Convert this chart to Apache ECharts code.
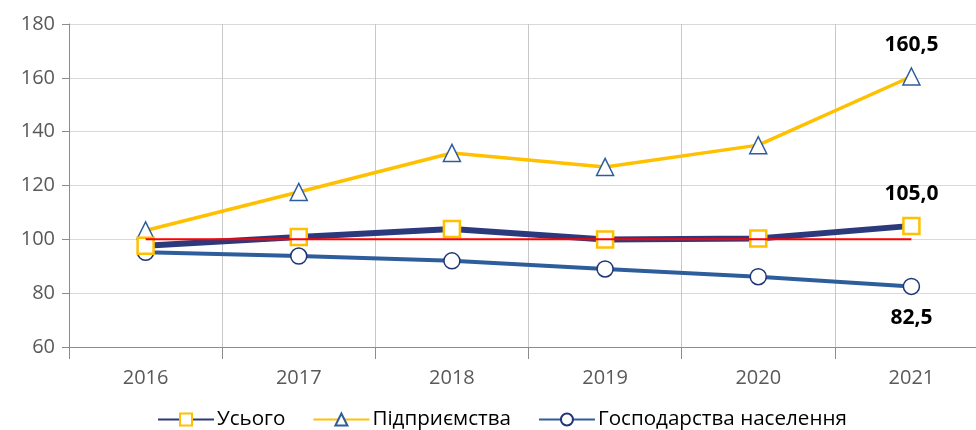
<!DOCTYPE html>
<html>
<head>
<meta charset="utf-8">
<script src="https://cdn.jsdelivr.net/npm/echarts@6/dist/echarts.min.js"></script>
<style>
  html, body { margin: 0; padding: 0; background: #fff; overflow: hidden; width: 976px; height: 430px; }
  #chart { width: 988px; height: 430px; }
</style>
</head>
<body>
<div id="chart"></div>
<script>
var years = ['2016', '2017', '2018', '2019', '2020', '2021'];
var total = [97.6, 100.9, 103.8, 99.9, 100.3, 105.0];
var enterprises = [103.3, 117.6, 132.1, 126.9, 135.0, 160.5];
var households = [95.2, 93.8, 92.0, 89.0, 86.1, 82.5];
var baseLine = [100, 100, 100, 100, 100, 100];
var yTicks = [60, 80, 100, 120, 140, 160, 180];

var chart = echarts.init(document.getElementById('chart'));

// label only on the last point
function lastLabel(pos) {
  return {
    show: true,
    position: pos,
    distance: 12,
    color: '#000',
    fontFamily: 'Open Sans',
    fontWeight: 'bold',
    fontSize: 21,
    formatter: function (p) {
      if (p.dataIndex !== years.length - 1) return '';
      return p.value.toFixed(1).replace('.', ',');
    }
  };
}

var option = {
  animation: false,
  grid: { left: 69, right: 0, top: 24, bottom: 83 },
  legend: {
    data: ['Усього', 'Підприємства', 'Господарства населення'],
    bottom: -5,
    left: 152,
    itemWidth: 56,
    itemHeight: 15,
    itemGap: 27,
    textStyle: { fontFamily: 'Open Sans', fontSize: 20.6, color: '#000', padding: [0, 0, 0, -2] }
  },
  xAxis: {
    type: 'category',
    data: years,
    boundaryGap: true,
    axisLine: { lineStyle: { color: '#8c8c8c' } },
    axisTick: { show: true, length: 12, lineStyle: { color: '#8c8c8c' } },
    axisLabel: { fontFamily: 'Open Sans', fontSize: 20, color: '#595959', margin: 21 },
    splitLine: { show: true, lineStyle: { color: '#c8c8c8' } }
  },
  yAxis: {
    type: 'value',
    min: yTicks[0],
    max: yTicks[yTicks.length - 1],
    interval: 20,
    axisLine: { show: true, lineStyle: { color: '#8c8c8c' } },
    axisTick: { show: true, length: 7, lineStyle: { color: '#8c8c8c' } },
    axisLabel: { fontFamily: 'Open Sans', fontSize: 20, color: '#595959', margin: 14 },
    splitLine: { lineStyle: { color: '#d9d9d9' } }
  },
  series: [
    {
      name: 'Господарства населення',
      type: 'line',
      data: households,
      symbol: 'circle',
      symbolSize: 16,
      lineStyle: { color: '#2e5d9c', width: 4 },
      itemStyle: { color: '#fff', borderColor: '#1f3577', borderWidth: 1.5 },
      label: lastLabel('bottom'),
      z: 3
    },
    {
      name: 'Підприємства',
      type: 'line',
      data: enterprises,
      symbol: 'triangle',
      symbolSize: 17,
      lineStyle: { color: '#ffc000', width: 3.5 },
      itemStyle: { color: '#fff', borderColor: '#2e5d9c', borderWidth: 1.5 },
      label: lastLabel('top'),
      z: 3
    },
    {
      name: 'Усього',
      type: 'line',
      data: total,
      symbol: 'rect',
      symbolSize: 16,
      lineStyle: { color: '#2b3a7c', width: 6 },
      itemStyle: { color: '#fff', borderColor: '#ffc000', borderWidth: 2.5 },
      label: lastLabel('top'),
      z: 4
    },
    {
      name: 'base',
      type: 'line',
      data: baseLine,
      symbol: 'none',
      lineStyle: { color: '#ff0000', width: 2 },
      silent: true,
      z: 5
    }
  ]
};

chart.setOption(option);
</script>
</body>
</html>
